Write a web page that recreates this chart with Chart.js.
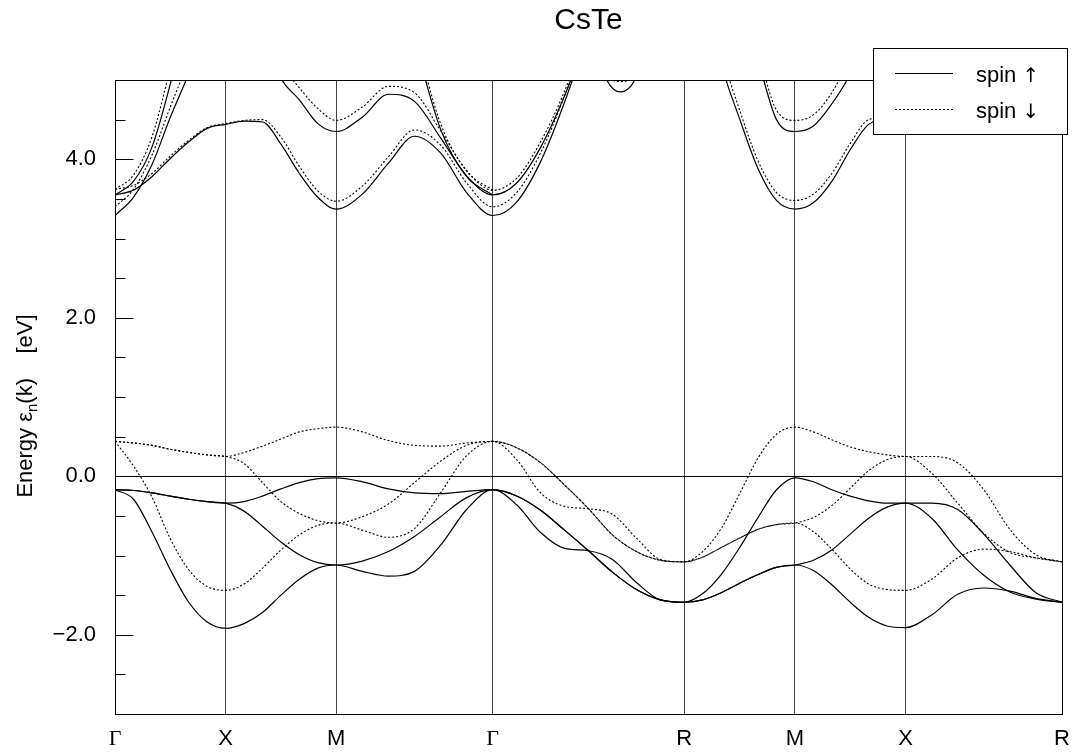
<!DOCTYPE html>
<html>
<head>
<meta charset="utf-8">
<title>CsTe band structure</title>
<script src="https://cdn.jsdelivr.net/npm/chart.js@4.4.1/dist/chart.umd.min.js"></script>
<style>
  html, body { margin: 0; padding: 0; background: #fff; }
  #wrap { width: 1090px; height: 755px; }
</style>
</head>
<body>
<div id="wrap"><canvas id="bands" width="1090" height="755"></canvas></div>
<script>
// CsTe band structure - spin up (solid) and spin down (dotted)

// k path: high symmetry points and their labels
const kTicks = [0, 0.5, 1.0, 1.7071, 2.5731, 3.0731, 3.5731, 4.2802];
const kLabels = ["Γ", "X", "M", "Γ", "R", "M", "X", "R"];
// number of sample steps along each segment (G-X, X-M, M-G, G-R, R-M, M-X, X-R)
const segDivs = [6, 6, 6, 8, 6, 6, 6];

const yLabelTicks = [-2, 0, 2, 4];
const yMinorTicks = [-2.5, -1.5, -1, -0.5, 0.5, 1, 1.5, 2.5, 3, 3.5, 4.5];

const _n = k => Array(k).fill(null);

// valence bands, spin up (eV)
const upA = [-0.17, -0.18, -0.21, -0.25, -0.29, -0.32, -0.34,
  -0.32, -0.25, -0.16, -0.08, -0.03, -0.02,
  -0.07, -0.16, -0.21, -0.22, -0.19, -0.17,
  -0.25, -0.43, -0.68, -0.94, -1.21, -1.43, -1.56, -1.59,
  -1.48, -1.24, -0.90, -0.52, -0.17, -0.02,
  -0.07, -0.17, -0.25, -0.31, -0.34, -0.34,
  -0.34, -0.42, -0.73, -1.12, -1.47, -1.59];
const upB = [-0.17, -0.18, -0.21, -0.25, -0.29, -0.32, -0.34,
  -0.44, -0.63, -0.83, -0.99, -1.09, -1.12,
  -1.07, -0.95, -0.76, -0.51, -0.27, -0.17,
  -0.36, -0.71, -0.91, -0.94, -1.05, -1.34, -1.56, -1.59,
  -1.56, -1.47, -1.35, -1.24, -1.15, -1.12,
  -1.06, -0.93, -0.73, -0.53, -0.39, -0.34,
  -0.53, -0.93, -1.25, -1.46, -1.55, -1.59];
const upC = [-0.17, -0.29, -0.70, -1.18, -1.59, -1.84, -1.92,
  -1.86, -1.72, -1.50, -1.30, -1.16, -1.12,
  -1.20, -1.26, -1.20, -0.87, -0.42, -0.17,
  -0.25, -0.43, -0.68, -0.94, -1.21, -1.43, -1.56, -1.59,
  -1.56, -1.47, -1.35, -1.24, -1.15, -1.12,
  -1.19, -1.37, -1.59, -1.78, -1.89, -1.91,
  -1.75, -1.49, -1.41, -1.45, -1.54, -1.59];

// valence bands, spin down (eV)
const dnA = [0.44, 0.42, 0.39, 0.34, 0.30, 0.27, 0.25,
  0.30, 0.38, 0.47, 0.56, 0.60, 0.62,
  0.56, 0.45, 0.39, 0.38, 0.42, 0.44,
  0.36, 0.17, -0.11, -0.41, -0.74, -0.95, -1.06, -1.08,
  -0.95, -0.66, -0.22, 0.23, 0.53, 0.62,
  0.56, 0.46, 0.37, 0.31, 0.27, 0.25,
  0.25, 0.17, -0.17, -0.67, -0.99, -1.08];
const dnB = [0.44, 0.42, 0.39, 0.34, 0.30, 0.27, 0.25,
  0.16, -0.08, -0.32, -0.47, -0.56, -0.59,
  -0.51, -0.35, -0.08, 0.19, 0.39, 0.44,
  0.21, -0.21, -0.38, -0.41, -0.48, -0.78, -1.05, -1.08,
  -1.02, -0.90, -0.78, -0.67, -0.61, -0.59,
  -0.52, -0.37, -0.15, 0.07, 0.21, 0.25,
  0.04, -0.34, -0.72, -0.96, -1.03, -1.08];
const dnC = [0.44, 0.13, -0.26, -0.79, -1.18, -1.39, -1.44,
  -1.36, -1.16, -0.93, -0.74, -0.62, -0.59,
  -0.68, -0.77, -0.66, -0.21, 0.26, 0.44,
  0.36, 0.17, -0.11, -0.41, -0.74, -0.95, -1.06, -1.08,
  -1.02, -0.90, -0.78, -0.67, -0.61, -0.59,
  -0.70, -0.92, -1.17, -1.36, -1.43, -1.44,
  -1.30, -1.03, -0.92, -0.95, -1.03, -1.08];

// conduction bands, spin up
const cUp1 = [3.55, 3.72, 4.15, 4.95, 5.9];
const cUp2 = [3.29, 3.52, 3.93, 4.53, 5.08, 5.7];
const cUp3 = [3.55, 3.61, 3.78, 4.01, 4.22, 4.39, 4.44,
  4.48, 4.47, 4.19, 3.82, 3.52, 3.37,
  3.56, 3.95, 4.29, 4.08, 3.58, 3.29,
  3.46, 3.97, 4.72, 5.6];
const cUp4 = [..._n(8), 5.6, 5.02, 4.75, 4.45, 4.35,
  4.53, 4.82, 4.73, 4.27, 3.79, 3.55,
  3.70, 4.15, 4.80, 5.6];
const cUp5 = [..._n(15), 5.5, 4.38, 3.78, 3.55];
const cUp6 = [..._n(27), 6.2, 5.2, 4.51, 3.88, 3.48, 3.37,
  3.45, 3.72, 4.12, 4.44, 4.50, 4.44,
  4.55, 4.80, 5.3];
const cUp7 = [..._n(29), 6.0, 5.25, 4.50, 4.35,
  4.42, 4.70, 5.08, 5.7];

// conduction bands, spin down
const cDn1 = [3.62, 3.80, 4.28, 5.15, 6.1];
const cDn2 = [3.40, 3.62, 4.05, 4.66, 5.25, 5.9];
const cDn3 = [3.62, 3.67, 3.82, 4.04, 4.24, 4.40, 4.45,
  4.49, 4.50, 4.28, 3.91, 3.60, 3.47,
  3.66, 4.03, 4.37, 4.18, 3.70, 3.40,
  3.58, 4.08, 4.80, 5.65];
const cDn4 = [..._n(8), 5.7, 5.2, 4.90, 4.64, 4.49,
  4.66, 4.92, 4.84, 4.36, 3.86, 3.61,
  3.76, 4.22, 4.86, 5.7];
const cDn5 = [..._n(15), 5.6, 4.45, 3.85, 3.61];
const cDn6 = [..._n(27), 6.3, 5.35, 4.62, 3.98, 3.58, 3.48,
  3.56, 3.82, 4.20, 4.50, 4.53, 4.46,
  4.58, 4.85, 5.35];
const cDn7 = [..._n(29), 6.1, 5.35, 4.62, 4.49,
  4.56, 4.84, 5.3, 5.9];

// small pocket dipping under the top edge half way G-R
const dipK = [2.19, 2.225, 2.255, 2.285, 2.315, 2.345, 2.38];
const dipUp = [5.3, 4.99, 4.88, 4.85, 4.88, 4.98, 5.3];
const dipDn = [5.1, 5.02, 4.99, 4.98, 4.99, 5.02, 5.1];

const SANS = '"Liberation Sans", Arial, Helvetica, sans-serif';
const SERIF = '"Liberation Serif", "Times New Roman", serif';

// k positions of all samples
const kGrid = [];
segDivs.forEach((n, s) => {
  for (let j = 0; j < n; j++) {
    kGrid.push(kTicks[s] + (kTicks[s + 1] - kTicks[s]) * j / n);
  }
});
kGrid.push(kTicks[kTicks.length - 1]);

function bandSet(values, dotted, ks) {
  const xs = ks || kGrid;
  return {
    data: xs.map((k, i) => ({ x: k, y: values[i] === undefined ? null : values[i] })),
    showLine: true,
    borderColor: "#000",
    borderWidth: dotted ? 1.1 : 1.2,
    borderDash: dotted ? [2, 2] : [],
    pointRadius: 0,
    fill: false,
    spanGaps: false,
    cubicInterpolationMode: "monotone"
  };
}

const datasets = [
  bandSet(upA, false), bandSet(upB, false), bandSet(upC, false),
  bandSet(dnA, true), bandSet(dnB, true), bandSet(dnC, true),
  bandSet(cUp1, false), bandSet(cUp2, false), bandSet(cUp3, false),
  bandSet(cUp4, false), bandSet(cUp5, false), bandSet(cUp6, false), bandSet(cUp7, false),
  bandSet(cDn1, true), bandSet(cDn2, true), bandSet(cDn3, true),
  bandSet(cDn4, true), bandSet(cDn5, true), bandSet(cDn6, true), bandSet(cDn7, true),
  bandSet(dipUp, false, dipK), bandSet(dipDn, true, dipK)
];

function fmtE(v) {
  const s = Math.abs(v).toFixed(1);
  return v < 0 ? "\u2212" + s : s;
}

// frame box and inward tick marks on the energy axis
const frameTicks = {
  id: "frameTicks",
  afterDatasetsDraw(chart) {
    const { ctx, chartArea: a } = chart;
    const y = chart.scales.y;
    const left = Math.round(a.left) + 0.5;
    ctx.save();
    ctx.strokeStyle = "#000";
    ctx.lineWidth = 1;
    ctx.beginPath();
    yMinorTicks.forEach(v => {
      const py = Math.round(y.getPixelForValue(v)) + 0.5;
      ctx.moveTo(left, py);
      ctx.lineTo(left + 10, py);
    });
    yLabelTicks.forEach(v => {
      const py = Math.round(y.getPixelForValue(v)) + 0.5;
      ctx.moveTo(left, py);
      ctx.lineTo(left + 18, py);
    });
    ctx.stroke();
    ctx.strokeRect(left, Math.round(a.top) + 0.5, Math.round(a.width), Math.round(a.height));
    ctx.restore();
  }
};

// title, energy axis title and the spin legend
const overlay = {
  id: "overlay",
  afterDraw(chart) {
    const { ctx, chartArea: a } = chart;
    ctx.save();
    ctx.fillStyle = "#000";

    ctx.font = "30px " + SANS;
    ctx.textAlign = "center";
    ctx.textBaseline = "alphabetic";
    ctx.fillText("CsTe", (a.left + a.right) / 2, 29);

    // y title with subscript n
    const parts = [["Energy \u03b5", "22px " + SANS, 0], ["n", "15px " + SANS, 5], ["(k)    [eV]", "22px " + SANS, 0]];
    ctx.save();
    ctx.translate(32, (a.top + a.bottom) / 2 + 9);
    ctx.rotate(-Math.PI / 2);
    ctx.textAlign = "left";
    let total = 0;
    parts.forEach(p => { ctx.font = p[1]; total += ctx.measureText(p[0]).width; });
    let tx = -total / 2;
    parts.forEach(p => {
      ctx.font = p[1];
      ctx.fillText(p[0], tx, p[2]);
      tx += ctx.measureText(p[0]).width;
    });
    ctx.restore();

    // legend box overlapping the top right corner
    const x0 = Math.round(a.right) - 189, y0 = Math.round(a.top) - 32, w = 194, h = 86;
    ctx.fillStyle = "#fff";
    ctx.fillRect(x0, y0, w, h);
    ctx.strokeStyle = "#000";
    ctx.lineWidth = 1;
    ctx.strokeRect(x0 + 0.5, y0 + 0.5, w, h);

    ctx.beginPath();
    ctx.moveTo(x0 + 22, y0 + 25.5);
    ctx.lineTo(x0 + 80, y0 + 25.5);
    ctx.stroke();
    ctx.setLineDash([2, 2]);
    ctx.beginPath();
    ctx.moveTo(x0 + 22, y0 + 61.5);
    ctx.lineTo(x0 + 80, y0 + 61.5);
    ctx.stroke();
    ctx.setLineDash([]);

    ctx.fillStyle = "#000";
    ctx.textAlign = "left";
    ctx.textBaseline = "alphabetic";
    [["spin ", "\u2191", 34], ["spin ", "\u2193", 70]].forEach(r => {
      ctx.font = "22px " + SANS;
      ctx.fillText(r[0], x0 + 103, y0 + r[2]);
      const sw = ctx.measureText(r[0]).width;
      ctx.font = '20px "DejaVu Sans", ' + SANS;
      ctx.fillText(r[1], x0 + 103 + sw, y0 + r[2]);
    });
    ctx.restore();
  }
};

Chart.defaults.color = "#000";

new Chart(document.getElementById("bands"), {
  type: "scatter",
  data: { datasets: datasets },
  options: {
    responsive: false,
    animation: false,
    events: [],
    layout: { padding: { top: 80, right: 28, left: 0, bottom: 0 } },
    elements: { point: { radius: 0 }, line: { capBezierPoints: false } },
    plugins: {
      legend: { display: false },
      title: { display: false },
      tooltip: { enabled: false }
    },
    scales: {
      x: {
        type: "linear",
        min: kTicks[0],
        max: kTicks[kTicks.length - 1],
        afterBuildTicks: s => { s.ticks = kTicks.map(v => ({ value: v })); },
        afterFit: s => { s.height = 41; },
        grid: { color: "#444", lineWidth: 1, drawTicks: false },
        border: { display: true, color: "#000", width: 1 },
        ticks: {
          autoSkip: false,
          maxRotation: 0,
          padding: 12,
          color: "#000",
          callback: (v, i) => kLabels[i],
          font: ctx => ({ family: kLabels[ctx.index] === "Γ" ? SERIF : SANS, size: 22 })
        }
      },
      y: {
        type: "linear",
        min: -3,
        max: 5,
        afterBuildTicks: s => { s.ticks = yLabelTicks.map(v => ({ value: v })); },
        afterFit: s => { s.width = 115; },
        grid: {
          color: ctx => (ctx.tick && ctx.tick.value === 0 ? "#000" : "rgba(0,0,0,0)"),
          drawTicks: false
        },
        border: { display: true, color: "#000", width: 1 },
        ticks: {
          padding: 19,
          color: "#000",
          font: { family: SANS, size: 22 },
          callback: v => fmtE(v)
        }
      }
    }
  },
  plugins: [frameTicks, overlay]
});
</script>
</body>
</html>
